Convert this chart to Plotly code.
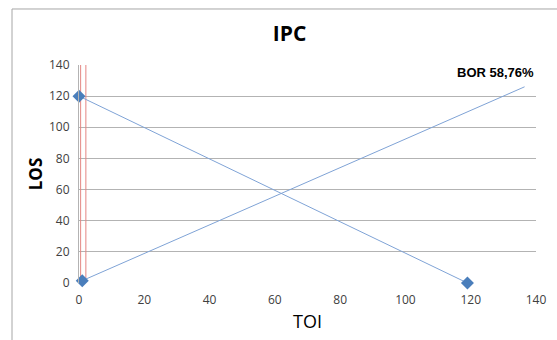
import plotly.graph_objects as go

# Data
los_line_x = [0, 119]
los_line_y = [120, 0]
bor_line_x = [1, 136.5]
bor_line_y = [1.5, 126]
marker_x = [0, 1, 119]
marker_y = [120, 1.5, 0]
red_x1 = [0.5, 0.5]
red_x2 = [2.1, 2.1]
red_y = [140, 3]
x_ticks = [0, 20, 40, 60, 80, 100, 120, 140]
y_ticks = [0, 20, 40, 60, 80, 100, 120, 140]
bor_label = "BOR 58,76%"
bor_label_pos = (140, 135.5)

blue = "#4a7ebb"
red = "#e48683"

fig = go.Figure()
fig.add_trace(go.Scatter(x=red_x1, y=red_y, mode="lines", line=dict(color=red, width=1), hoverinfo="skip"))
fig.add_trace(go.Scatter(x=red_x2, y=red_y, mode="lines", line=dict(color=red, width=1), hoverinfo="skip"))
fig.add_trace(go.Scatter(x=los_line_x, y=los_line_y, mode="lines", line=dict(color="#7fa3d6", width=1)))
fig.add_trace(go.Scatter(x=bor_line_x, y=bor_line_y, mode="lines", line=dict(color="#7fa3d6", width=1)))
fig.add_trace(go.Scatter(x=marker_x, y=marker_y, mode="markers", cliponaxis=False,
                         marker=dict(symbol="diamond", size=10, color=blue)))

fig.add_annotation(x=bor_label_pos[0], y=bor_label_pos[1], text="<b>" + bor_label + "</b>", showarrow=False,
                   xanchor="right", yanchor="middle",
                   font=dict(family="Liberation Sans Narrow, Arial Narrow, Liberation Sans", size=13, color="#000"))

fig.add_shape(type="rect", xref="paper", yref="paper", x0=-0.1466, x1=1.1, y0=-0.4, y1=1.2569,
              line=dict(color="#a6a6a6", width=1), fillcolor="rgba(0,0,0,0)", layer="below")

fig.update_layout(
    width=557, height=340,
    margin=dict(l=79, r=21, t=65, b=57),
    paper_bgcolor="white", plot_bgcolor="white",
    showlegend=False,
    title=dict(text="<b>IPC</b>", x=0.52, xanchor="center", y=0.9, yanchor="middle",
               font=dict(family="Open Sans, Liberation Sans", size=21, color="#000")),
    font=dict(family="Open Sans, Liberation Sans", size=12, color="#404040"),
)
fig.update_xaxes(range=[0, 140], tickvals=x_ticks, showgrid=False, zeroline=False,
                 showline=False, ticks="", ticklen=0, ticklabelstandoff=8,
                 title=dict(text="TOI", font=dict(size=18, color="#000"), standoff=8))
fig.update_yaxes(range=[0, 140], tickvals=y_ticks, showgrid=True, gridcolor="#b3b3b3", gridwidth=1,
                 zeroline=False, showline=True, linecolor="#b3b3b3", linewidth=1, ticks="",
                 ticklabelstandoff=6,
                 title=dict(text="<b>LOS</b>", font=dict(size=17, color="#000"), standoff=2))

fig.write_html("out.html")
